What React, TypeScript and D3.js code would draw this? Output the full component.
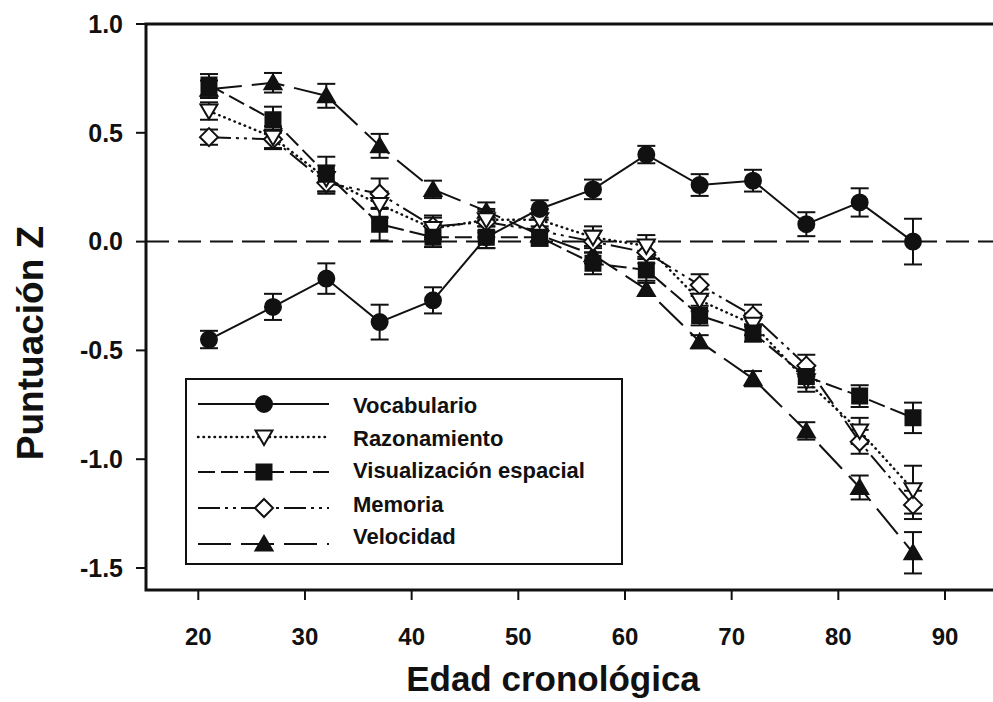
import React from "react";
import * as d3 from "d3";

const ages = [21, 27, 32, 37, 42, 47, 52, 57, 62, 67, 72, 77, 82, 87];

const vocabulario = [-0.45, -0.3, -0.17, -0.37, -0.27, 0.02, 0.15, 0.24, 0.4, 0.26, 0.28, 0.08, 0.18, 0.0];
const vocabularioErr = [0.04, 0.06, 0.07, 0.08, 0.06, 0.05, 0.04, 0.045, 0.04, 0.05, 0.05, 0.055, 0.065, 0.105];

const razonamiento = [0.6, 0.48, 0.29, 0.17, 0.06, 0.1, 0.1, 0.02, -0.02, -0.27, -0.38, -0.64, -0.87, -1.14];
const razonamientoErr = [0.04, 0.05, 0.06, 0.06, 0.05, 0.05, 0.05, 0.05, 0.05, 0.05, 0.05, 0.05, 0.06, 0.11];

const visualizacion = [0.72, 0.56, 0.31, 0.08, 0.02, 0.02, 0.02, -0.1, -0.13, -0.34, -0.42, -0.62, -0.71, -0.81];
const visualizacionErr = [0.05, 0.06, 0.08, 0.075, 0.045, 0.05, 0.04, 0.05, 0.05, 0.045, 0.04, 0.05, 0.05, 0.07];

const memoria = [0.48, 0.47, 0.27, 0.22, 0.07, 0.09, 0.05, 0.0, -0.05, -0.2, -0.34, -0.57, -0.92, -1.21];
const memoriaErr = [0.035, 0.045, 0.05, 0.07, 0.05, 0.05, 0.05, 0.05, 0.05, 0.05, 0.05, 0.05, 0.055, 0.065];

const velocidad = [0.7, 0.73, 0.67, 0.44, 0.24, 0.14, 0.03, -0.06, -0.22, -0.46, -0.63, -0.87, -1.13, -1.43];
const velocidadErr = [0.04, 0.045, 0.055, 0.055, 0.04, 0.04, 0.04, 0.04, 0.03, 0.03, 0.035, 0.04, 0.055, 0.095];

const seriesNames = ["Vocabulario", "Razonamiento", "Visualización espacial", "Memoria", "Velocidad"];
const xTicks = [20, 30, 40, 50, 60, 70, 80, 90];
const yTicks = [1.0, 0.5, 0.0, -0.5, -1.0, -1.5];

const FONT = "'Liberation Sans', Arial, Helvetica, sans-serif";

type Marker = "circle" | "triDown" | "square" | "diamond" | "triUp";

const styles: { dash: string; marker: Marker }[] = [
  { dash: "none", marker: "circle" },
  { dash: "0.5,5", marker: "triDown" },
  { dash: "17,6", marker: "square" },
  { dash: "22,5,3,5,3,5", marker: "diamond" },
  { dash: "33,10", marker: "triUp" },
];

function markerPath(m: Marker): string {
  switch (m) {
    case "circle":
      return d3.symbol(d3.symbolCircle, Math.PI * 8 * 8)() as string;
    case "square":
      return "M-7.5,-7.5L7.5,-7.5L7.5,7.5L-7.5,7.5Z";
    case "diamond":
      return "M0,-9L9,0L0,9L-9,0Z";
    case "triUp":
      return "M0,-8L8.5,6.5L-8.5,6.5Z";
    case "triDown":
      return "M-8.5,-6.5L8.5,-6.5L0,8Z";
  }
}

function markerFill(m: Marker) {
  return m === "diamond" || m === "triDown" ? "#fff" : "#111";
}

export default function App() {
  const x = d3.scaleLinear().domain([20, 90]).range([198.3, 945]);
  const y = d3.scaleLinear().domain([-1.5, 1.0]).range([568, 24]);

  const values = [vocabulario, razonamiento, visualizacion, memoria, velocidad];
  const errs = [vocabularioErr, razonamientoErr, visualizacionErr, memoriaErr, velocidadErr];

  const line = d3
    .line<[number, number]>()
    .x((d) => x(d[0]))
    .y((d) => y(d[1]));

  const left = 146;
  const top = 24;
  const bottom = 590;
  const right = 1010;

  const legendX = 186;
  const legendY = 379;
  const legendRows = [404, 437, 472, 508, 544];
  const legendText = [405, 438, 470, 504, 536];

  const drawOrder = [4, 3, 1, 2, 0];

  return (
    <svg
      width={993}
      height={702}
      style={{ position: "absolute", left: 0, top: 0, background: "#fff" }}
      fontFamily={FONT}
    >
      <rect x={0} y={0} width={993} height={702} fill="#fff" />
      {/* zero reference line */}
      <line
        x1={left}
        x2={993}
        y1={y(0)}
        y2={y(0)}
        stroke="#111"
        strokeWidth={2}
        strokeDasharray="23,9"
      />

      {/* series lines */}
      {drawOrder.map((si) => (
        <path
          key={"l" + si}
          d={line(ages.map((a, i) => [a, values[si][i]]) as [number, number][]) as string}
          fill="none"
          stroke="#111"
          strokeWidth={si === 1 ? 2.5 : 2}
          strokeDasharray={styles[si].dash}
          strokeLinecap={si === 1 ? "round" : "butt"}
        />
      ))}

      {/* error bars */}
      {drawOrder.map((si) =>
        ages.map((a, i) => {
          const cx = x(a);
          const y1 = y(values[si][i] + errs[si][i]);
          const y2 = y(values[si][i] - errs[si][i]);
          return (
            <g key={"e" + si + "-" + i} stroke="#111" strokeWidth={2}>
              <line x1={cx} x2={cx} y1={y1} y2={y2} />
              <line x1={cx - 9} x2={cx + 9} y1={y1} y2={y1} />
              <line x1={cx - 9} x2={cx + 9} y1={y2} y2={y2} />
            </g>
          );
        })
      )}

      {/* markers */}
      {drawOrder.map((si) =>
        ages.map((a, i) => (
          <path
            key={"m" + si + "-" + i}
            d={markerPath(styles[si].marker)}
            transform={`translate(${x(a)},${y(values[si][i])})`}
            fill={markerFill(styles[si].marker)}
            stroke="#111"
            strokeWidth={2}
          />
        ))
      )}

      {/* frame */}
      <path
        d={`M${right},${top}L${left},${top}L${left},${bottom}L${right},${bottom}`}
        fill="none"
        stroke="#111"
        strokeWidth={3}
      />

      {/* y ticks */}
      {yTicks.map((t) => (
        <g key={"yt" + t}>
          <line x1={left - 10} x2={left} y1={y(t)} y2={y(t)} stroke="#111" strokeWidth={2} />
          <text
            x={123}
            y={y(t)}
            dy="0.35em"
            textAnchor="end"
            fontSize={25}
            fontWeight="bold"
            fill="#111"
          >
            {t.toFixed(1)}
          </text>
        </g>
      ))}

      {/* x ticks */}
      {xTicks.map((t) => (
        <g key={"xt" + t}>
          <line x1={x(t)} x2={x(t)} y1={bottom} y2={bottom + 10} stroke="#111" strokeWidth={2} />
          <text
            x={x(t)}
            y={637}
            dy="0.35em"
            textAnchor="middle"
            fontSize={24}
            fontWeight="bold"
            fill="#111"
          >
            {t}
          </text>
        </g>
      ))}

      {/* axis titles */}
      <text x={553} y={691} textAnchor="middle" fontSize={35} fontWeight="bold" fill="#111">
        Edad cronológica
      </text>
      <text
        transform="translate(43,343) rotate(-90)"
        textAnchor="middle"
        fontSize={37}
        fontWeight="bold"
        fill="#111"
      >
        Puntuación Z
      </text>

      {/* legend */}
      <rect x={legendX} y={legendY} width={436} height={185} fill="#fff" stroke="#111" strokeWidth={2} />
      {seriesNames.map((name, si) => (
        <g key={"lg" + si}>
          <line
            x1={198}
            x2={329}
            y1={legendRows[si]}
            y2={legendRows[si]}
            stroke="#111"
            strokeWidth={si === 1 ? 2.5 : 2}
            strokeDasharray={styles[si].dash}
            strokeLinecap={si === 1 ? "round" : "butt"}
          />
          <path
            d={markerPath(styles[si].marker)}
            transform={`translate(264,${legendRows[si]})`}
            fill={markerFill(styles[si].marker)}
            stroke="#111"
            strokeWidth={2}
          />
          <text
            x={353}
            y={legendText[si]}
            dy="0.35em"
            fontSize={22}
            fontWeight="bold"
            fill="#111"
          >
            {name}
          </text>
        </g>
      ))}
    </svg>
  );
}
